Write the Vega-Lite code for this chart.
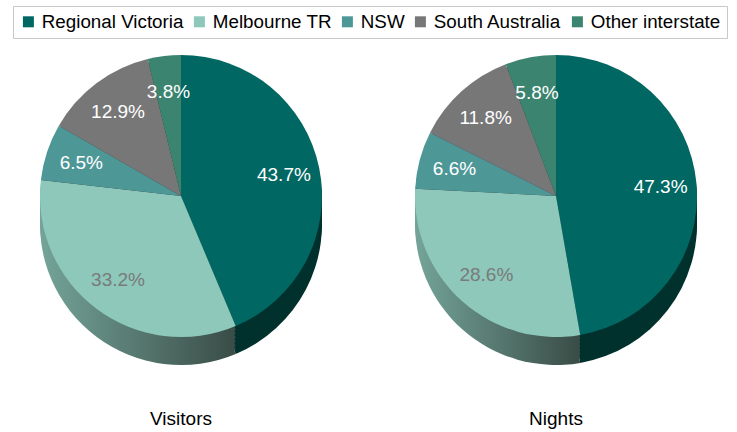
{
  "$schema": "https://vega.github.io/schema/vega-lite/v6.json",
  "padding": {"left": 6, "right": 6, "top": 5, "bottom": 0},
  "background": "white",
  "data": {"values": [
    {"metric": "Visitors", "region": "Regional Victoria", "idx": 1, "value": 0.437},
    {"metric": "Visitors", "region": "Melbourne TR", "idx": 2, "value": 0.332},
    {"metric": "Visitors", "region": "NSW", "idx": 3, "value": 0.065},
    {"metric": "Visitors", "region": "South Australia", "idx": 4, "value": 0.129},
    {"metric": "Visitors", "region": "Other interstate", "idx": 5, "value": 0.038},
    {"metric": "Nights", "region": "Regional Victoria", "idx": 1, "value": 0.473},
    {"metric": "Nights", "region": "Melbourne TR", "idx": 2, "value": 0.286},
    {"metric": "Nights", "region": "NSW", "idx": 3, "value": 0.066},
    {"metric": "Nights", "region": "South Australia", "idx": 4, "value": 0.118},
    {"metric": "Nights", "region": "Other interstate", "idx": 5, "value": 0.058}
  ]},
  "spacing": 25,
  "bounds": "flush",
  "facet": {
    "column": {
      "field": "metric", "type": "nominal", "sort": ["Visitors", "Nights"],
      "header": {"title": null, "labelOrient": "bottom", "labelFontSize": 19, "labelFont": "Liberation Sans", "labelColor": "#000000", "labelPadding": 67}
    }
  },
  "spec": {
    "width": 350,
    "height": 294,
    "encoding": {
      "theta": {"field": "value", "type": "quantitative", "stack": true},
      "order": {"field": "idx", "type": "quantitative"},
      "color": {"field": "region", "type": "nominal",
         "scale": {"domain": ["Regional Victoria", "Melbourne TR", "NSW", "South Australia", "Other interstate"],
                   "range": ["#006763", "#8dc8ba", "#4e9797", "#777777", "#3b8570"]},
         "legend": {"orient": "none", "legendX": 7, "legendY": -43, "direction": "horizontal", "title": null, "labelFontSize": 18.8, "labelFont": "Liberation Sans", "labelColor": "#000000", "symbolType": "square", "symbolSize": 121, "symbolStrokeWidth": 0, "labelOffset": 4, "columnPadding": 6, "strokeColor": "#c8c8c8", "padding": 6, "labelLimit": 300}}
    },
    "layer": [
      {"mark": {"type": "arc", "outerRadius": 141, "yOffset": 28}, "encoding": {"color": {"condition": [{"test": "datum.region === 'Regional Victoria'", "value": "#00312d"}, {"test": "datum.region === 'Melbourne TR'", "value": {"gradient": "linear", "x1": 0, "y1": 0, "x2": 1, "y2": 0, "stops": [{"offset": 0, "color": "#74a499"}, {"offset": 1, "color": "#394c46"}]}}], "value": "#333333"}}},
      {"mark": {"type": "arc", "outerRadius": 141, "yOffset": 24}, "encoding": {"color": {"condition": [{"test": "datum.region === 'Regional Victoria'", "value": "#00312d"}, {"test": "datum.region === 'Melbourne TR'", "value": {"gradient": "linear", "x1": 0, "y1": 0, "x2": 1, "y2": 0, "stops": [{"offset": 0, "color": "#74a499"}, {"offset": 1, "color": "#394c46"}]}}], "value": "#333333"}}},
      {"mark": {"type": "arc", "outerRadius": 141, "yOffset": 20}, "encoding": {"color": {"condition": [{"test": "datum.region === 'Regional Victoria'", "value": "#00312d"}, {"test": "datum.region === 'Melbourne TR'", "value": {"gradient": "linear", "x1": 0, "y1": 0, "x2": 1, "y2": 0, "stops": [{"offset": 0, "color": "#74a499"}, {"offset": 1, "color": "#394c46"}]}}], "value": "#333333"}}},
      {"mark": {"type": "arc", "outerRadius": 141, "yOffset": 16}, "encoding": {"color": {"condition": [{"test": "datum.region === 'Regional Victoria'", "value": "#00312d"}, {"test": "datum.region === 'Melbourne TR'", "value": {"gradient": "linear", "x1": 0, "y1": 0, "x2": 1, "y2": 0, "stops": [{"offset": 0, "color": "#74a499"}, {"offset": 1, "color": "#394c46"}]}}], "value": "#333333"}}},
      {"mark": {"type": "arc", "outerRadius": 141, "yOffset": 12}, "encoding": {"color": {"condition": [{"test": "datum.region === 'Regional Victoria'", "value": "#00312d"}, {"test": "datum.region === 'Melbourne TR'", "value": {"gradient": "linear", "x1": 0, "y1": 0, "x2": 1, "y2": 0, "stops": [{"offset": 0, "color": "#74a499"}, {"offset": 1, "color": "#394c46"}]}}], "value": "#333333"}}},
      {"mark": {"type": "arc", "outerRadius": 141, "yOffset": 8}, "encoding": {"color": {"condition": [{"test": "datum.region === 'Regional Victoria'", "value": "#00312d"}, {"test": "datum.region === 'Melbourne TR'", "value": {"gradient": "linear", "x1": 0, "y1": 0, "x2": 1, "y2": 0, "stops": [{"offset": 0, "color": "#74a499"}, {"offset": 1, "color": "#394c46"}]}}], "value": "#333333"}}},
      {"mark": {"type": "arc", "outerRadius": 141, "yOffset": 4}, "encoding": {"color": {"condition": [{"test": "datum.region === 'Regional Victoria'", "value": "#00312d"}, {"test": "datum.region === 'Melbourne TR'", "value": {"gradient": "linear", "x1": 0, "y1": 0, "x2": 1, "y2": 0, "stops": [{"offset": 0, "color": "#74a499"}, {"offset": 1, "color": "#394c46"}]}}], "value": "#333333"}}},
      {"mark": {"type": "arc", "outerRadius": 141}},
      {"mark": {"type": "text", "radius": 105, "fontSize": 19, "font": "Liberation Sans"},
       "encoding": {
         "text": {"field": "value", "type": "quantitative", "format": ".1%"},
         "color": {"condition": {"test": "datum.region === 'Melbourne TR'", "value": "#7a7a7a"}, "value": "#ffffff"}
       }}
    ]
  },
  "config": {"view": {"stroke": null}}
}
